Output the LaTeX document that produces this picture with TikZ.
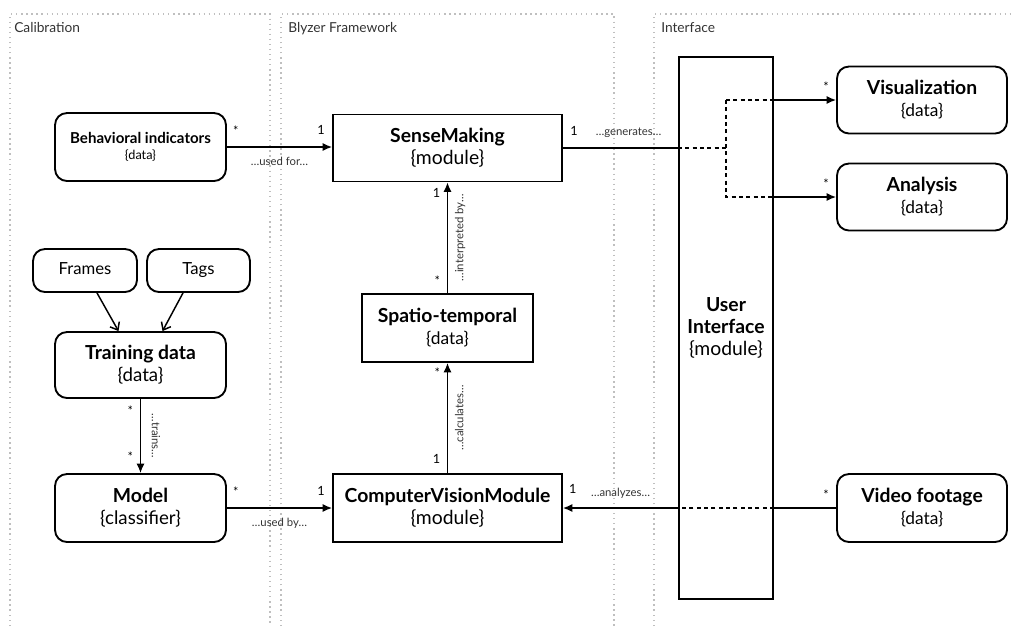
\documentclass[tikz,border=0pt]{standalone}
\usepackage{fontspec}
\setmainfont{Lato}
\usetikzlibrary{arrows.meta,calc}

\newcommand{\nm}[1]{{\fontsize{14.5}{16.5}\selectfont\bfseries #1}}

\tikzset{
  panel/.style={draw=black!25, line width=1pt, dash pattern=on 1pt off 2.8pt},
  paneltitle/.style={anchor=north west, inner sep=0.75pt, text=black!80, font=\fontsize{10.3}{12}\selectfont},
  entity/.style={draw, line width=1.4pt, rounded corners=9pt, align=center, inner sep=0pt, font=\fontsize{14}{16.5}\selectfont},
  module/.style={draw, line width=1.4pt, align=center, inner sep=0pt, font=\fontsize{14.5}{16.5}\selectfont},
  link/.style={draw=black, line width=1.1pt},
  assoc/.style={link, -{Latex[length=7pt,width=6pt]}},
  hidden/.style={link, dash pattern=on 3pt off 2.5pt},
  feed/.style={link, -{Straight Barb[length=5pt,width=8pt]}},
  lbl/.style={font=\fontsize{8.5}{10}\selectfont, text=black!80, inner sep=3pt},
  mult/.style={font=\fontsize{9.5}{10}\selectfont, inner sep=2pt}
}

\begin{document}
\begin{tikzpicture}[x=0.75pt,y=0.75pt,yscale=-1,xscale=1]
\useasboundingbox (0,0) rectangle (1014,626);

%Shape: Panels
\draw[panel] (10,626) -- (10,14) -- (270,14) -- (270,626);
\draw[panel] (281,626) -- (281,14) -- (614,14) -- (614,626);
\draw[panel] (654,626) -- (654,14) -- (1012,14);
% Text Node
\node[paneltitle] (tcal) at (13,21) {Calibration};
\node[paneltitle] (tbly) at (287,21) {Blyzer Framework};
\node[paneltitle] (tint) at (660,21) {Interface};

%Shape: Calibration
\node[entity, minimum width=128.25pt, minimum height=51pt, font=\fontsize{9.5}{12}\selectfont] (bi) at (140.5,147) {{\fontsize{11.3}{13}\selectfont\bfseries Behavioral indicators}\\\{data\}};
\node[entity, minimum width=78pt, minimum height=32.25pt, font=\fontsize{12.5}{15}\selectfont, text height=1.6ex, text depth=0.4ex] (fr) at (85,270.5) {Frames};
\node[entity, minimum width=77.25pt, minimum height=32.25pt, font=\fontsize{12.5}{15}\selectfont, text height=1.6ex, text depth=0.4ex] (tg) at (198.5,270.5) {Tags};
\node[entity, minimum width=128.25pt, minimum height=49.5pt] (td) at (140.5,365) {\nm{Training data}\\\{data\}};
\node[entity, minimum width=128.25pt, minimum height=51pt] (mo) at (140.5,508) {\nm{Model}\\\{classifier\}};

%Shape: Blyzer Framework
\node[module, minimum width=171.75pt, minimum height=50.25pt] (sm) at (447.5,148) {\nm{SenseMaking}\\\{module\}};
\node[module, minimum width=128.25pt, minimum height=51pt, font=\fontsize{13}{16.5}\selectfont] (st) at (447.5,328) {\nm{Spatio-temporal}\\\{data\}};
\node[module, minimum width=171.75pt, minimum height=51pt] (cvm) at (447.5,508) {\nm{ComputerVisionModule}\\\{module\}};

%Shape: Interface
\node[module, minimum width=70.5pt, minimum height=406.5pt] (ui) at (726,328) {\nm{User}\\\nm{Interface}\\\{module\}};
\node[entity, minimum width=127.5pt, minimum height=50.25pt, font=\fontsize{13}{16.5}\selectfont] (vis) at (922,100) {\nm{Visualization}\\\{data\}};
\node[entity, minimum width=127.5pt, minimum height=50.25pt, font=\fontsize{13}{16.5}\selectfont] (an) at (922,197) {\nm{Analysis}\\\{data\}};
\node[entity, minimum width=127.5pt, minimum height=51pt, font=\fontsize{13}{16.5}\selectfont] (vf) at (922,508) {\nm{Video footage}\\\{data\}};

%Straight Lines: training data
\draw[feed] ($(fr.south)+(12,0)$) -- ($(td.north)+(-22,0)$);
\draw[feed] ($(tg.south)+(-15.5,0)$) -- ($(td.north)+(22,0)$);
\draw[assoc] (td.south) -- node[lbl, rotate=-90, anchor=south, inner ysep=8pt]{…trains…} (mo.north)
  node[mult, pos=0, anchor=north east, yshift=-3pt, xshift=-3pt]{*}
  node[mult, pos=1, anchor=south east, yshift=6pt, xshift=-3pt]{*};

%Straight Lines: used for / used by
\draw[assoc] (bi.east) -- node[lbl, below=4pt]{…used for…} (bi.east -| sm.west)
  node[mult, pos=0, anchor=south west, yshift=6pt, xshift=2pt]{*}
  node[mult, pos=1, anchor=south east, yshift=7pt, xshift=-3pt]{1};
\draw[assoc] (mo.east) -- node[lbl, below=4pt]{…used by…} (mo.east -| cvm.west)
  node[mult, pos=0, anchor=south west, yshift=6pt, xshift=2pt]{*}
  node[mult, pos=1, anchor=south east, yshift=7pt, xshift=-3pt]{1};

%Straight Lines: calculates / interpreted by
\draw[assoc] (cvm.north) -- node[lbl, rotate=90, anchor=north, inner ysep=5pt]{…calculates…} (st.south)
  node[mult, pos=0, anchor=south east, yshift=5pt, xshift=-3pt]{1}
  node[mult, pos=1, anchor=north east, yshift=-1pt, xshift=-3pt]{*};
\draw[assoc] (st.north) -- node[lbl, rotate=90, anchor=north, inner ysep=5pt]{…interpreted by…} (sm.south)
  node[mult, pos=0, anchor=south east, yshift=3pt, xshift=-3pt]{*}
  node[mult, pos=1, anchor=north east, yshift=-2pt, xshift=-3pt]{1};

%Straight Lines: generates
\coordinate (gin) at (sm.east -| ui.west);
\coordinate (gmid) at (sm.east -| ui.center);
\coordinate (gvis) at (vis.west -| ui.east);
\coordinate (gan) at (an.west -| ui.east);
\draw[link] (gin) -- node[lbl, pos=0.43, above=4pt]{…generates…} (sm.east)
  node[mult, pos=1, anchor=south west, yshift=7pt, xshift=3pt]{1};
\draw[hidden] (gin) -- (gmid) (gvis -| gmid) |- (gan) (gmid |- gvis) -- (gvis);
\draw[assoc] (gvis) -- (vis.west) node[mult, pos=1, anchor=south east, yshift=4pt, xshift=-3pt]{*};
\draw[assoc] (gan) -- (an.west) node[mult, pos=1, anchor=south east, yshift=4pt, xshift=-3pt]{*};

%Straight Lines: analyzes
\coordinate (aout) at (vf.west -| ui.east);
\coordinate (ain) at (vf.west -| ui.west);
\draw[link] (aout) -- (vf.west) node[mult, pos=1, anchor=south east, yshift=4pt, xshift=-3pt]{*};
\draw[hidden] (aout) -- (ain);
\draw[assoc] (ain) -- node[lbl, above=4pt]{…analyzes…} (vf.west -| cvm.east)
  node[mult, pos=1, anchor=south west, yshift=8pt, xshift=2pt]{1};

\end{tikzpicture}
\end{document}
